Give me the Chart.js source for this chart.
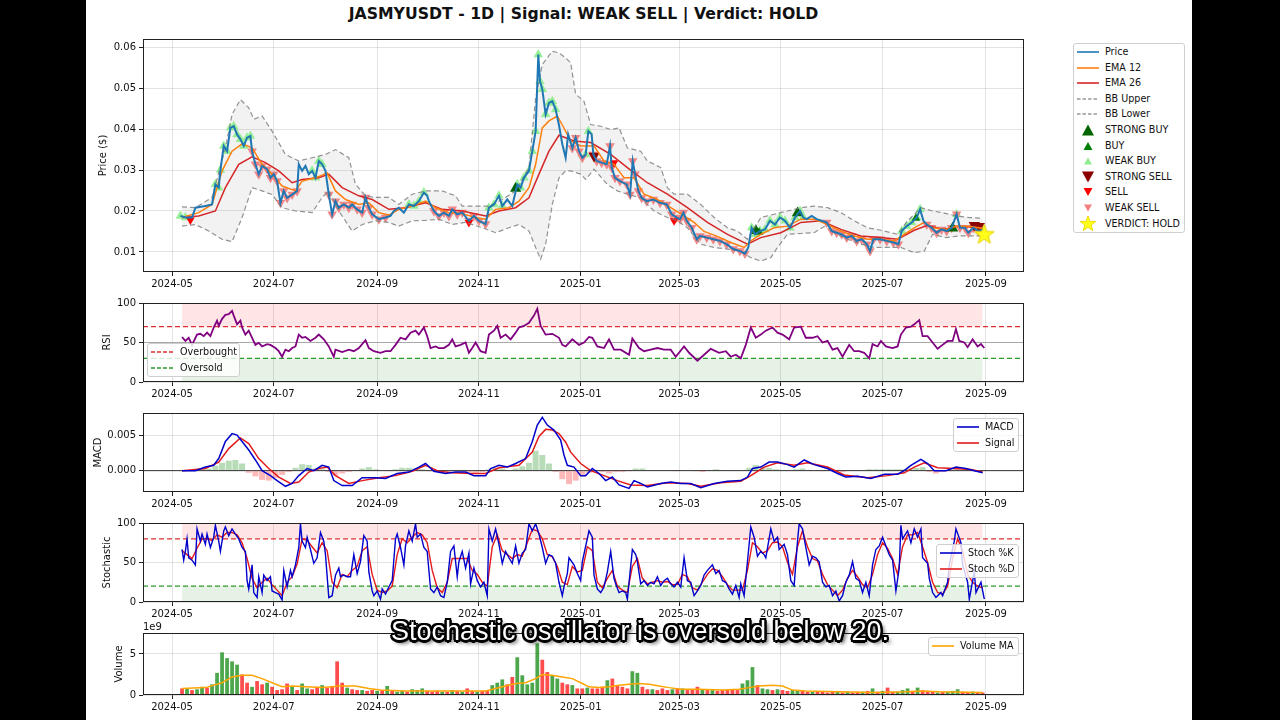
<!DOCTYPE html>
<html><head><meta charset="utf-8">
<script src="https://cdn.jsdelivr.net/npm/chart.js@4.4.1/dist/chart.umd.min.js"></script>
<style>
html,body{margin:0;padding:0;width:1280px;height:720px;background:#000;overflow:hidden;position:relative;}
#page{position:absolute;left:86px;top:0;width:1106px;height:720px;background:#fff;}
canvas{position:absolute;}
.t{position:absolute;font-family:"DejaVu Sans",sans-serif;color:#111;white-space:nowrap;}
.lg{position:absolute;background:rgba(255,255,255,0.8);border:1px solid #cfcfcf;border-radius:3px;box-sizing:border-box;}
.row{position:absolute;height:14px;width:120px;font:9.6px "DejaVu Sans",sans-serif;color:#111;white-space:nowrap;}
.row svg{position:absolute;left:0;top:0;}
.row span{position:absolute;line-height:12px;}
#sub{position:absolute;left:0;width:1280px;top:616px;text-align:center;font:27px "Liberation Sans",Arial,sans-serif;color:#fff;line-height:30px;
text-shadow:-2px -2px 0 #000,2px -2px 0 #000,-2px 2px 0 #000,2px 2px 0 #000,0 -2.5px 0 #000,0 2.5px 0 #000,-2.5px 0 0 #000,2.5px 0 0 #000,3px 3px 4px #000;}
</style></head><body>
<div id="page"></div>
<div class="t" style="left:143px;width:881px;top:4px;text-align:center;font-weight:bold;font-size:15.7px;line-height:20px;">JASMYUSDT - 1D | Signal: WEAK SELL | Verdict: HOLD</div>
<canvas id="cPrice" width="946" height="264" style="left:86px;top:30px"></canvas>
<canvas id="cRsi" width="946" height="110" style="left:86px;top:294px"></canvas>
<canvas id="cMacd" width="946" height="110" style="left:86px;top:404px"></canvas>
<canvas id="cStoch" width="946" height="110" style="left:86px;top:514px"></canvas>
<canvas id="cVol" width="946" height="93" style="left:86px;top:624px"></canvas>
<div class="t" style="left:143px;top:621px;font-size:10px;line-height:12px;">1e9</div>
<script>
// ---------- DATA (day index counted from 2024-05-01) ----------
const tickDays=[0,61,123,184,245,304,365,426,488];
const tickLabels=['2024-05','2024-07','2024-09','2024-11','2025-01','2025-03','2025-05','2025-07','2025-09'];

const priceSeries=[[5,.0188],[8,.0184],[12,.0184],[14,.0208],[20,.0212],[24,.0216],[26,.0265],[28,.0257],[29,.030],[31,.0359],[33,.0346],[35,.0403],[37,.0407],[39,.0387],[41,.0375],[43,.0359],[45,.0379],[47,.0383],[48,.0346],[50,.0314],[52,.029],[54,.031],[57,.0302],[59,.0281],[61,.029],[63,.0273],[65,.022],[67,.0249],[69,.0232],[72,.024],[75,.0249],[76,.0314],[78,.0298],[80,.031],[82,.029],[84,.0298],[86,.0281],[88,.0322],[90,.0314],[92,.0298],[94,.024],[96,.0192],[98,.0224],[100,.0208],[103,.0216],[106,.0208],[108,.0216],[111,.0204],[114,.0196],[116,.0233],[118,.0208],[120,.0192],[124,.018],[128,.0184],[131,.0188],[133,.02],[136,.0208],[139,.0196],[142,.0216],[145,.0212],[148,.0224],[151,.0245],[153,.0237],[154,.0224],[157,.02],[160,.0188],[163,.0196],[166,.0188],[168,.0204],[171,.0192],[174,.0196],[178,.0176],[181,.0188],[184,.0176],[188,.0168],[190,.0208],[193,.0216],[196,.0237],[198,.0212],[201,.0228],[204,.0212],[207,.0265],[209,.0257],[211,.0281],[214,.0298],[216,.0346],[218,.0395],[219.6,.0582],[220.6,.0517],[222,.0497],[224,.0436],[226,.0464],[228,.0468],[230,.0448],[232,.041],[234,.0363],[236,.033],[237.5,.0387],[240,.0354],[242,.0379],[244,.0346],[246,.033],[248,.0338],[249.6,.0395],[251.6,.0387],[252.6,.0338],[254.6,.0322],[257.6,.0318],[260.6,.0314],[262.6,.0359],[263.6,.0306],[265.6,.0281],[268.6,.0273],[272.6,.0265],[274.6,.024],[276.2,.0322],[277.6,.029],[279.6,.0249],[281.6,.0232],[284.6,.0224],[288.6,.0228],[292.6,.022],[296.6,.0216],[299.6,.0192],[302.6,.0184],[304.6,.018],[306.6,.0196],[308.6,.0176],[311.6,.0159],[314.6,.0131],[316.6,.0139],[320.6,.0135],[324.5,.0131],[328.5,.0127],[332.5,.0119],[336.5,.0107],[340.5,.0102],[343.5,.0096],[345.5,.0111],[347.5,.0159],[349.5,.0143],[352.5,.0151],[355.5,.0155],[358.5,.0176],[361.5,.0167],[364.5,.0184],[367.5,.0176],[370.5,.0159],[373.5,.0184],[376.5,.02],[378.5,.0184],[380.5,.018],[383.5,.0188],[386.5,.018],[389.5,.0176],[392.5,.0172],[395.5,.0151],[398.5,.0147],[401.5,.0143],[404.5,.0135],[407.5,.0139],[410.5,.0127],[413.5,.0131],[416.5,.0119],[418.5,.0102],[420.5,.0131],[424.5,.0131],[428.5,.0127],[432.5,.0123],[435.5,.0119],[437.5,.0151],[440.5,.0163],[443.5,.0172],[446.5,.0184],[448.5,.0204],[450.5,.0176],[452.5,.0167],[455.5,.0159],[458.4,.0147],[461.4,.0155],[464.4,.0151],[467.4,.0159],[470.4,.0192],[472.4,.0159],[475.4,.0159],[477.4,.0147],[480.4,.0159],[483.4,.0151],[486.4,.0155]];

const ema12Series=[[6,.0184],[16,.0196],[24,.0216],[30,.0298],[36,.0346],[42,.0364],[48,.0354],[54,.0314],[60,.029],[66,.0261],[74,.0249],[78,.0273],[86,.0281],[93,.0293],[98,.0249],[104,.0228],[112,.0216],[118,.022],[124,.0196],[130,.019],[136,.0204],[144,.0212],[152,.0224],[158,.0208],[166,.0196],[174,.0193],[182,.0184],[188,.018],[194,.0204],[202,.0208],[208,.0224],[214,.0257],[218,.0314],[222,.0403],[226,.042],[231,.0432],[234,.041],[239,.0371],[245,.0359],[253,.0359],[259,.0322],[265,.0314],[271,.0281],[277,.0281],[283,.0241],[291,.0228],[299,.0208],[307,.0188],[313,.0172],[319,.015],[327,.0138],[335,.0123],[343,.0111],[347,.0127],[353,.0143],[361,.0159],[369,.0163],[377,.018],[385,.018],[393,.0167],[401,.0151],[409,.0139],[417,.0131],[425,.0131],[433,.0127],[439,.0143],[445,.0159],[451,.0172],[456,.0159],[464,.0155],[470,.0163],[478,.0163],[486,.0157]];

const ema26Series=[[6,.0184],[16,.0188],[26,.020],[32,.0257],[40,.0314],[48,.0332],[56,.0318],[64,.0298],[72,.0269],[78,.0277],[88,.0281],[94,.029],[102,.0257],[112,.0237],[120,.0228],[130,.0204],[140,.0208],[152,.022],[162,.0204],[174,.020],[188,.0188],[196,.020],[206,.0208],[214,.0232],[220,.029],[226,.0346],[232,.0385],[241,.0371],[251,.0367],[263,.0338],[273,.0306],[285,.0269],[297,.0241],[309,.0208],[321,.0172],[333,.0143],[345,.0119],[353,.0135],[365,.0147],[377,.0172],[389,.0176],[401,.0155],[413,.0139],[425,.0135],[435,.0131],[445,.0153],[453,.0165],[462,.0155],[472,.0163],[486,.0159]];

const bbUpperSeries=[[6,.021],[14,.0208],[24,.0233],[32,.0354],[36,.0436],[41,.0472],[46,.0452],[49,.0424],[54,.0432],[60,.0395],[68,.0338],[76,.0322],[84,.033],[92,.0338],[98,.035],[106,.033],[110,.0265],[116,.0237],[122,.0233],[130,.0233],[136,.0216],[144,.0241],[152,.0249],[162,.0249],[170,.0237],[174,.0212],[182,.0212],[190,.0212],[198,.0228],[206,.0249],[214,.0306],[218,.0476],[222,.0558],[228,.059],[232,.0586],[236,.0574],[239,.0562],[242,.0485],[247,.0468],[251,.0411],[257,.0407],[263,.0399],[268,.0403],[273,.0354],[281,.0346],[285,.0322],[293,.0306],[297,.0257],[301,.0241],[309,.0241],[317,.0216],[325,.0184],[333,.0159],[339,.0151],[345,.0131],[353,.0184],[361,.0192],[369,.020],[377,.0208],[385,.0212],[393,.0208],[401,.0196],[409,.0176],[417,.0159],[425,.0153],[435,.0143],[441,.0176],[449,.0208],[456,.020],[462,.0196],[470,.0188],[478,.0184],[486,.0182]];

const bbLowerSeries=[[6,.0163],[14,.0167],[22,.0151],[30,.0131],[36,.0125],[42,.0184],[48,.0257],[54,.0249],[60,.024],[66,.0208],[74,.020],[84,.0196],[90,.0233],[94,.0249],[100,.020],[108,.0151],[114,.0167],[122,.0176],[130,.0172],[136,.0163],[144,.0176],[152,.0177],[160,.018],[168,.0167],[176,.0172],[186,.0159],[194,.0147],[202,.0159],[208,.0167],[214,.0151],[218,.0111],[221,.0082],[224,.0119],[228,.0216],[232,.0281],[236,.0298],[239,.0298],[245,.029],[248,.0277],[253,.0302],[261,.0265],[267,.0249],[273,.0241],[281,.0232],[289,.020],[297,.0184],[303,.0176],[309,.0159],[317,.0119],[325,.0111],[333,.0107],[341,.0102],[347,.0086],[353,.0078],[359,.0086],[363,.0111],[369,.0143],[377,.0145],[385,.0147],[393,.0167],[397,.0147],[405,.0131],[413,.0119],[421,.0111],[429,.0111],[437,.0111],[445,.0098],[451,.0102],[456,.0143],[464,.0135],[472,.0139],[480,.0139],[486,.0139]];

const weakBuyRanges=[[5,10],[26,47],[84,90],[142,152],[190,200],[207,231],[247,251],[346,380],[437,450],[468,472]];
const weakSellRanges=[[48,75],[94,128],[155,188],[238,246],[252,345],[390,436],[452,486]];
const strongBuyPts=[[206,.0255],[350,.0152],[375,.0195],[468,.0158]];
const buyPts=[[352,.0148],[446,.0182]];
const strongSellPts=[[253,.0334],[481,.0165],[484,.0163]];
const sellPts=[[11,.0178],[178,.0172],[265,.0318],[301,.0176]];
const verdictPts=[[487,.0143]];

const rsiSeries=[[6,57],[8,52],[10,56],[12,47],[15,60],[17,61],[19,58],[21,62.5],[23,58],[25,69],[27,77.6],[28,71],[30,80],[32,85],[34,86],[36,90],[37,84],[39,73],[41,77.6],[42,69],[44,60],[46,65],[48,56],[50,47],[52,49.6],[54,45],[57,48],[59,47],[62,43],[64,39],[66,32],[68,41],[70,39],[72,43],[74,45],[76,60],[78,56],[80,57],[83,52],[86,56],[88,60],[91,54],[94,45],[97,32],[98,41],[102,38],[106,41],[109,39],[112,43],[116,53],[118,43],[121,39],[125,37],[128,39],[131,39],[134,47],[137,56],[140,54],[143,62.5],[146,65],[148,60],[151,69],[153,58],[155,43],[158,45],[160,43],[163,43],[166,47],[168,54],[170,45],[173,47],[176,50],[178,37],[180,43],[182,50],[185,39],[188,37],[190,60],[193,65],[195,71],[197,56],[200,60],[203,54],[206,62.5],[208,69],[211,71],[214,75],[217,84],[219,92.7],[221,71],[224,60],[228,61],[232,56],[234,47],[236,45],[240,54],[244,47],[247,50],[250,57],[252,56],[255,45],[259,43],[262,54],[265,41],[269,41],[274,34.5],[276,55],[280,43],[283,39],[287,41],[291,43],[295,41],[299,41],[302,32],[307,45],[310,37],[315,27],[319,34.5],[323,42],[328,37],[332,39],[335,32],[338,34.5],[341,30],[344,47],[347,69],[350,56],[353,60],[356,65],[360,69],[363,62.5],[366,60],[370,54],[373,69],[377,70],[380,56],[384,56],[387,58],[390,50],[393,52],[396,41],[399,43],[402,32],[406,47],[409,39],[412,39],[415,37],[418,30],[420,48],[423,45],[425,52],[428,45],[432,43],[435,45],[437,60],[440,69],[443,70],[445,73],[448,78.4],[450,58],[453,58],[456,50],[459,42],[462,47],[465,52],[468,52],[470,67],[472,52],[475,50],[477,44],[480,54],[483,45],[485,48],[487,43]];

const macdSeries=[[6,0],[14,0],[20,.0005],[25,.00075],[28,.0017],[32,.0041],[36,.0052],[39,.005],[42,.0041],[46,.0029],[50,.0015],[54,0],[59,-.0007],[63,-.0014],[68,-.0022],[72,-.0018],[76,-.0007],[81,.0003],[85,0],[90,.00075],[94,.0005],[97,-.0014],[102,-.0021],[108,-.0021],[114,-.001],[122,-.001],[128,-.0011],[135,-.0004],[142,-.0002],[148,.0005],[152,.001],[157,-.0001],[164,-.0004],[170,-.0002],[176,-.0002],[181,-.0007],[188,-.0007],[191,.0003],[196,.00075],[201,.0005],[206,.001],[212,.0017],[216,.0041],[219,.0064],[222,.0075],[225,.0064],[229,.0057],[233,.0043],[235,.0022],[237,.00075],[241,.0005],[245,-.0007],[248,-.0007],[252,.0003],[256,-.0004],[260,-.0014],[264,-.0009],[268,-.002],[274,-.0025],[277,-.0014],[281,-.0018],[285,-.0023],[293,-.0018],[299,-.0016],[305,-.0018],[311,-.0018],[317,-.0024],[325,-.0018],[333,-.0015],[341,-.0014],[345,-.0009],[348,.0003],[353,.0005],[358,.0012],[363,.0012],[369,.00085],[373,.0005],[379,.0015],[385,.00085],[393,.0003],[399,-.0004],[404,-.0009],[411,-.0008],[419,-.0011],[427,-.0005],[435,-.0005],[439,0],[443,.00075],[449,.0016],[453,.001],[457,0],[464,0],[470,.0005],[476,.0003],[481,0],[486,-.0003]];

const signalSeries=[[6,0],[20,.0003],[28,.0012],[34,.0031],[41,.0046],[46,.0038],[52,.0017],[58,.0003],[64,-.0009],[71,-.0018],[76,-.0016],[82,-.0002],[88,.0003],[93,.0005],[98,-.0007],[106,-.0018],[114,-.0014],[124,-.001],[134,-.0007],[144,-.0001],[152,.00075],[160,-.0001],[168,-.0003],[180,-.0004],[188,-.0004],[196,.0004],[208,.00075],[216,.0026],[220,.0048],[224,.0058],[228,.0057],[232,.0052],[236,.004],[239,.0026],[245,.001],[251,0],[259,-.0007],[267,-.0014],[275,-.002],[285,-.0021],[297,-.0017],[309,-.0018],[317,-.0022],[329,-.0017],[341,-.0015],[347,-.0007],[355,.0005],[363,.0011],[373,.00075],[381,.0011],[393,.0005],[403,-.0006],[417,-.001],[429,-.0007],[439,-.0003],[445,.0005],[451,.0011],[459,.0004],[469,.0003],[479,.00015],[486,-.0002]];

const histSeries=[[6,.0001],[10,.0001],[14,.0001],[18,.0002],[22,.0003],[26,.0007],[30,.0011],[34,.0014],[38,.0015],[42,.001],[46,-.0003],[50,-.0008],[54,-.0013],[58,-.0014],[62,-.001],[66,-.0006],[70,-.0002],[74,.0004],[78,.0009],[82,.0008],[86,.0003],[90,.0002],[94,-.0002],[98,-.0007],[102,-.0004],[106,-.0002],[110,.0001],[114,.0003],[118,.0005],[122,.0002],[126,.00005],[130,-.0001],[134,.0002],[138,.0004],[142,.0004],[146,.0003],[150,.0002],[154,-.0001],[158,-.0002],[162,-.0003],[166,-.0001],[170,.0001],[174,.0001],[178,-.0002],[182,-.0003],[186,-.0002],[190,.0002],[194,.0004],[198,.0003],[202,.0001],[206,.0003],[210,.0006],[214,.0011],[218,.0028],[222,.0022],[226,.001],[230,-.0002],[234,-.0012],[238,-.0019],[242,-.0014],[246,-.0008],[250,-.0003],[254,.0001],[258,-.0002],[262,-.0004],[266,-.0002],[270,-.0002],[274,-.0001],[278,.0003],[282,.0003],[286,.0001],[290,.0001],[294,.0001],[298,.0001],[302,-.0001],[306,.0001],[310,.0001],[314,-.0001],[318,-.0002],[322,.0001],[326,.0002],[330,.0001],[334,.0001],[338,.00005],[342,.0001],[346,.0004],[350,.0008],[354,.0005],[358,.0004],[362,.0002],[366,.0001],[370,.0001],[374,.0002],[378,.0003],[382,.0001],[386,.00005],[390,-.0001],[394,.00005],[398,-.0002],[402,-.0002],[406,.00005],[410,.0001],[414,.0001],[418,.0002],[422,.0002],[426,.0002],[430,.0002],[434,.0002],[438,.0002],[442,.0003],[446,.0004],[450,.0005],[454,-.0002],[458,-.0004],[462,-.0002],[466,-.0001],[470,.0002],[474,.0001],[478,.00005],[482,-.0001],[486,-.0001]];

const stochKSeries=[[6,66.5],[7,53],[8,64],[9,80],[10,56],[12,53],[14,47],[15,92.6],[17,77],[18,86],[20,73],[21,86],[23,69],[25,82],[26,97],[28,77],[29,64],[31,90],[32,95],[34,84],[36,92.6],[38,86],[40,80],[42,69],[44,64],[45,27],[46,16.5],[48,47],[49,12],[51,5.7],[52,32],[54,12],[55,34],[57,27],[59,32],[60,14],[62,12],[64,10],[66,2.6],[67,40],[69,19],[71,40],[72,32],[74,47],[76,69],[77,99],[78,77],[80,69],[81,82],[83,66.5],[85,49],[87,56],[89,88],[91,77],[92,60],[94,5.7],[96,8],[98,34],[100,43],[101,32],[103,34],[105,32],[107,32],[109,60],[111,36],[113,51],[115,84],[117,77],[118,38],[120,14],[121,8],[123,14],[125,3.5],[126,16.5],[128,10],[130,19],[132,27],[134,80],[135,86],[137,69],[139,47],[140,71],[142,90],[144,77],[146,99],[147,82],[149,86],[151,69],[153,64],[155,16.5],[157,12],[159,19],[161,8],[163,5.7],[165,25],[167,64],[169,71],[171,32],[172,51],[174,64],[176,43],[178,62],[179,23],[181,43],[183,27],[185,19],[187,25],[189,8],[190,92.6],[192,77],[194,92.6],[196,73],[198,49],[200,64],[202,56],[204,49],[206,71],[208,49],[210,62],[212,66.5],[214,99],[216,90],[218,99],[220,86],[222,69],[224,49],[226,60],[228,58],[230,49],[232,25],[234,8],[235,19],[237,36],[238,56],[241,47],[243,36],[245,27],[246,51],[250,90],[252,82],[253,34],[255,16.5],[257,12],[259,19],[261,38],[263,64],[265,30],[266,23],[268,12],[270,14],[272,12],[273,3.5],[276,66.5],[278,60],[279,51],[281,23],[283,27],[285,21],[287,25],[289,23],[291,32],[293,21],[295,27],[297,30],[299,23],[301,19],[303,25],[305,19],[307,56],[309,27],[311,25],[313,8],[315,14],[317,21],[319,34],[321,40],[324,47],[326,36],[328,40],[330,27],[332,25],[334,16.5],[336,10],[338,21],[340,5.7],[341,23],[343,8],[345,51],[347,95],[349,82],[351,58],[353,64],[355,60],[356,56],[359,92.6],[361,77],[363,82],[364,66.5],[367,73],[369,60],[371,27],[373,21],[375,77],[376,99],[378,92.6],[380,69],[382,47],[384,58],[386,56],[388,51],[390,25],[392,19],[394,21],[396,8],[398,14],[400,1.3],[402,8],[404,25],[406,34],[408,51],[410,30],[412,27],[414,12],[416,25],[418,8],[420,47],[422,66.5],[424,71],[426,82],[428,71],[430,60],[432,53],[434,14],[436,43],[437,97],[438,80],[441,90],[443,75],[445,92.6],[447,82],[449,92.6],[450,56],[453,49],[454,30],[456,12],[458,5.7],[461,12],[462,8],[465,25],[466,47],[469,77],[470,92.6],[473,75],[474,47],[477,25],[478,3.5],[481,38],[482,12],[485,25],[487,3.5]];

const stochDSeries=[[6,65],[9,60],[12,55],[15,68],[18,80],[21,80],[24,78],[27,85],[30,82],[33,88],[36,88],[39,85],[42,75],[45,55],[48,30],[51,18],[54,25],[57,30],[60,22],[63,15],[66,8],[69,25],[72,32],[75,48],[78,80],[81,78],[84,70],[87,62],[90,75],[93,65],[96,25],[99,18],[102,35],[105,32],[108,40],[111,45],[114,65],[117,70],[120,35],[123,15],[126,12],[129,14],[132,20],[135,60],[138,80],[141,75],[144,82],[147,88],[150,85],[153,75],[156,40],[159,18],[162,12],[165,25],[168,55],[171,55],[174,55],[177,55],[180,40],[183,35],[186,25],[189,20],[192,70],[195,85],[198,65],[201,60],[204,55],[207,60],[210,58],[213,75],[216,92],[219,90],[222,80],[225,60],[228,57],[231,45],[234,25],[237,22],[240,45],[243,38],[246,40],[249,70],[252,65],[255,25],[258,18],[261,30],[264,40],[267,20],[270,15],[273,12],[276,45],[279,55],[282,30],[285,23],[288,25],[291,27],[294,25],[297,26],[300,22],[303,22],[306,35],[309,32],[312,18],[315,15],[318,25],[321,35],[324,42],[327,40],[330,32],[333,22],[336,15],[339,15],[342,15],[345,40],[348,75],[351,70],[354,62],[357,65],[360,75],[363,76],[366,70],[369,50],[372,35],[375,70],[378,90],[381,70],[384,55],[387,52],[390,35],[393,22],[396,15],[399,8],[402,15],[405,30],[408,40],[411,32],[414,22],[417,18],[420,35],[423,60],[426,75],[429,68],[432,55],[435,35],[438,70],[441,85],[444,85],[447,88],[450,70],[453,50],[456,25],[459,12],[462,10],[465,20],[468,55],[471,80],[474,65],[477,35],[480,25],[483,20],[486,18]];

// volume in units of 1e9; 'g' = up day, 'r' = down day
const volumeSeries=[[6,.8,'r'],[9,.8,'g'],[12,.6,'r'],[15,.7,'g'],[18,1.0,'g'],[21,.9,'r'],[24,1.3,'g'],[27,2.7,'g'],[30,5.2,'g'],[33,4.5,'g'],[36,4.1,'g'],[39,3.7,'g'],[42,2.5,'r'],[45,1.5,'r'],[48,1.0,'g'],[51,1.7,'r'],[54,1.3,'r'],[57,1.5,'g'],[60,1.0,'r'],[63,.6,'r'],[66,.7,'r'],[69,1.4,'r'],[72,1.0,'g'],[75,.6,'r'],[78,1.4,'g'],[81,.8,'g'],[84,.7,'r'],[87,1.0,'r'],[90,1.2,'g'],[93,.9,'r'],[96,1.1,'r'],[99,4.1,'r'],[102,1.5,'r'],[105,.9,'g'],[108,.7,'r'],[111,.6,'r'],[114,.6,'g'],[117,.5,'r'],[120,.6,'r'],[123,.5,'g'],[126,.6,'r'],[129,1.1,'g'],[132,.5,'r'],[135,.4,'g'],[138,.5,'g'],[141,.4,'r'],[144,.7,'g'],[147,.6,'g'],[150,.8,'g'],[153,.5,'r'],[156,.4,'r'],[159,.5,'r'],[162,.4,'g'],[165,.4,'r'],[168,.6,'g'],[171,.5,'r'],[174,.4,'g'],[177,.8,'r'],[180,.5,'r'],[183,.4,'g'],[186,.5,'r'],[189,.5,'r'],[192,1.2,'g'],[195,1.5,'g'],[198,1.9,'g'],[201,1.3,'r'],[204,2.2,'r'],[207,4.6,'g'],[210,2.4,'g'],[213,1.3,'g'],[216,1.5,'g'],[219,6.3,'g'],[222,4.3,'r'],[225,2.8,'r'],[228,2.4,'g'],[231,2.0,'g'],[234,1.5,'r'],[237,1.3,'r'],[240,1.2,'g'],[243,.8,'r'],[246,.8,'r'],[249,.9,'g'],[252,.8,'r'],[255,.8,'r'],[258,1.0,'r'],[261,1.8,'g'],[264,2.0,'r'],[267,1.2,'r'],[270,1.0,'r'],[273,.8,'r'],[276,2.9,'g'],[279,2.7,'g'],[282,1.0,'r'],[285,.7,'r'],[288,.7,'g'],[291,.6,'r'],[294,.8,'r'],[297,.6,'r'],[300,.7,'g'],[303,.8,'r'],[306,.8,'g'],[309,.6,'r'],[312,.7,'r'],[315,1.0,'r'],[318,.7,'g'],[321,.6,'r'],[324,.6,'g'],[327,.5,'r'],[330,.6,'r'],[333,.6,'r'],[336,.7,'r'],[339,.6,'r'],[342,1.4,'g'],[345,1.8,'g'],[348,3.4,'g'],[351,1.2,'r'],[354,.8,'g'],[357,.7,'g'],[360,.6,'r'],[363,.7,'g'],[366,.6,'r'],[369,.5,'r'],[372,.6,'g'],[375,.5,'g'],[378,.5,'r'],[381,.4,'r'],[384,.4,'g'],[387,.5,'r'],[390,.4,'r'],[393,.3,'r'],[396,.4,'r'],[399,.4,'g'],[402,.3,'r'],[405,.4,'g'],[408,.3,'r'],[411,.4,'r'],[414,.4,'g'],[417,.5,'r'],[420,.8,'g'],[423,.4,'r'],[426,.5,'g'],[429,.9,'r'],[432,.4,'r'],[435,.4,'g'],[438,.6,'g'],[441,.8,'g'],[444,.5,'r'],[447,.9,'g'],[450,.6,'r'],[453,.4,'r'],[456,.4,'r'],[459,.3,'g'],[462,.4,'r'],[465,.4,'g'],[468,.5,'g'],[471,.7,'g'],[474,.4,'r'],[477,.3,'r'],[480,.4,'g'],[483,.3,'r'],[486,.3,'r']];

const volumeMASeries=[[6,.8],[20,.9],[30,1.5],[36,2.2],[42,2.4],[48,2.4],[54,2.0],[60,1.5],[66,1.0],[72,1.1],[80,1.0],[90,.9],[96,1.0],[100,1.1],[110,1.1],[118,.8],[125,.6],[140,.5],[160,.5],[180,.5],[188,.5],[194,.8],[200,1.1],[206,1.4],[212,1.5],[218,2.0],[222,2.5],[228,2.4],[234,2.2],[240,2.0],[246,1.4],[250,1.0],[256,.9],[262,1.0],[268,1.2],[274,1.3],[280,1.4],[286,1.3],[292,1.1],[298,.9],[305,.7],[315,.7],[330,.6],[340,.7],[346,.9],[352,1.1],[360,1.2],[366,1.1],[372,.6],[380,.5],[400,.4],[420,.3],[440,.4],[450,.5],[460,.4],[486,.3]];

const bandStart=6, bandEnd=486;

// ---------- HELPERS ----------
const X_MIN=-17.4, X_MAX=510.8;
const FONT={family:'DejaVu Sans',size:10};
const GRID='rgba(176,176,176,0.35)';
const pts=s=>s.map(p=>({x:p[0],y:p[1]}));
const inRanges=(d,r)=>r.some(([a,b])=>d>=a&&d<=b);
const hline=(v,color,dash,w)=>({data:[{x:X_MIN,y:v},{x:X_MAX,y:v}],borderColor:color,borderWidth:w,borderDash:dash,pointRadius:0,fill:false});
const band=(lo,hi,color)=>({data:[{x:bandStart,y:hi},{x:bandEnd,y:hi}],borderWidth:0,pointRadius:0,fill:{value:lo},backgroundColor:color});

const frame={id:'frame',afterDatasetsDraw(c){const a=c.chartArea,ctx=c.ctx;ctx.save();ctx.strokeStyle='#222';ctx.lineWidth=1;
 ctx.strokeRect(Math.round(a.left)+0.5,Math.round(a.top)+0.5,Math.round(a.right-a.left)-1,Math.round(a.bottom-a.top)-1);ctx.restore();}};

function makeChart(id,datasets,y){
 return new Chart(document.getElementById(id),{type:'line',data:{datasets},
  options:{responsive:false,animation:false,devicePixelRatio:1,
   layout:{autoPadding:false,padding:{left:0,right:8,top:6,bottom:0}},
   plugins:{legend:{display:false},tooltip:{enabled:false},filler:{drawTime:'beforeDatasetsDraw'}},
   elements:{point:{radius:0},line:{tension:0}},
   scales:{
    x:{type:'linear',min:X_MIN,max:X_MAX,offset:false,
     afterBuildTicks:s=>{s.ticks=tickDays.map(v=>({value:v}));},
     afterFit:s=>{s.height=22;},
     ticks:{autoSkip:false,maxRotation:0,padding:2,color:'#111',font:FONT,callback:(v,i)=>tickLabels[i]},
     grid:{color:GRID,tickColor:'#222',tickLength:4,offset:false},border:{display:false}},
    y:{type:'linear',min:y.min,max:y.max,
     afterBuildTicks:s=>{s.ticks=y.ticks.map(v=>({value:v}));},
     afterFit:s=>{s.width=57;},
     ticks:{padding:3,color:'#111',font:FONT,callback:y.fmt},
     grid:{color:GRID,tickColor:'#222',tickLength:4},border:{display:false},
     title:{display:true,text:y.title,color:'#111',font:FONT,padding:{top:y.tpad,bottom:0}}}
   }},plugins:[frame]});
}

// star image for verdict marker
const starImg=document.createElement('canvas');starImg.width=22;starImg.height=22;
(function(){const g=starImg.getContext('2d');g.beginPath();for(let i=0;i<10;i++){const r=i%2?4.2:10.5,a=-Math.PI/2+i*Math.PI/5;g.lineTo(11+r*Math.cos(a),11.5+r*Math.sin(a));}g.closePath();g.fillStyle='#ffff1a';g.fill();g.strokeStyle='#e8d000';g.lineWidth=1;g.stroke();})();

const marker=(data,color,r,down)=>({data:pts(data),showLine:false,pointStyle:'triangle',pointRadius:r,pointRotation:down?180:0,pointBackgroundColor:color,pointBorderColor:color,pointBorderWidth:0});

// ---------- PRICE ----------
makeChart('cPrice',[
 {data:pts(verdictPts),showLine:false,pointStyle:starImg,pointRadius:10},
 {data:pts(priceSeries),borderColor:'#1f77b4',borderWidth:2},
 {data:pts(ema12Series),borderColor:'#ff7f0e',borderWidth:1.5},
 {data:pts(ema26Series),borderColor:'#d62728',borderWidth:1.5},
 {data:pts(bbUpperSeries),borderColor:'rgba(128,128,128,0.85)',borderWidth:1.2,borderDash:[5,3]},
 {data:pts(bbLowerSeries),borderColor:'rgba(128,128,128,0.85)',borderWidth:1.2,borderDash:[5,3],fill:'-1',backgroundColor:'rgba(128,128,128,0.1)'},
 marker(strongSellPts,'#8b0000',6.5,true),
 marker(sellPts,'#ff0000',5,true),
 marker(strongBuyPts,'#006400',6.5,false),
 marker(buyPts,'#008000',5,false),
 marker(priceSeries.filter(p=>inRanges(p[0],weakSellRanges)),'rgba(240,128,128,0.95)',5.5,true),
 marker(priceSeries.filter(p=>inRanges(p[0],weakBuyRanges)),'rgba(144,238,144,0.95)',5.5,false)
],{min:0.0051,max:0.062,ticks:[0.01,0.02,0.03,0.04,0.05,0.06],fmt:v=>v.toFixed(2),title:'Price ($)',tpad:11});

// ---------- RSI ----------
makeChart('cRsi',[
 {data:pts(rsiSeries),borderColor:'#800080',borderWidth:1.8},
 hline(70,'#e03030',[5,3],1.3),
 hline(30,'#2a9a2a',[5,3],1.3),
 hline(50,'rgba(128,128,128,0.6)',[],1),
 band(70,100,'rgba(255,0,0,0.1)'),
 band(0,30,'rgba(0,128,0,0.1)')
],{min:0,max:100,ticks:[0,50,100],fmt:v=>String(v),title:'RSI',tpad:15});

// ---------- MACD ----------
makeChart('cMacd',[
 {data:pts(macdSeries),borderColor:'#0000cc',borderWidth:1.5},
 {data:pts(signalSeries),borderColor:'#e41a1a',borderWidth:1.5},
 hline(0,'#333',[],1),
 {type:'bar',data:pts(histSeries),backgroundColor:histSeries.map(p=>p[1]>=0?'rgba(0,128,0,0.28)':'rgba(255,0,0,0.28)'),barPercentage:0.9,categoryPercentage:1,grouped:false}
],{min:-0.003,max:0.0081,ticks:[0,0.005],fmt:v=>v.toFixed(3),title:'MACD',tpad:6});

// ---------- STOCHASTIC ----------
makeChart('cStoch',[
 {data:pts(stochKSeries),borderColor:'#0000cc',borderWidth:1.4},
 {data:pts(stochDSeries),borderColor:'#e41a1a',borderWidth:1.4},
 hline(80,'#e03030',[5,3],1.3),
 hline(20,'#2a9a2a',[5,3],1.3),
 band(80,100,'rgba(255,0,0,0.1)'),
 band(0,20,'rgba(0,128,0,0.1)')
],{min:0,max:100,ticks:[0,50,100],fmt:v=>String(v),title:'Stochastic',tpad:15});

// ---------- VOLUME ----------
makeChart('cVol',[
 {data:pts(volumeMASeries),borderColor:'#ffa500',borderWidth:1.5},
 {type:'bar',data:volumeSeries.map(p=>({x:p[0],y:p[1]})),backgroundColor:volumeSeries.map(p=>p[2]==='g'?'rgba(0,128,0,0.7)':'rgba(255,0,0,0.7)'),barPercentage:0.75,categoryPercentage:1,grouped:false}
],{min:0,max:7.56,ticks:[0,5],fmt:v=>String(v),title:'Volume',tpad:27});

// ---------- LEGENDS ----------
function sym(r){
 const c=r.color;
 if(r.kind==='line')return `<svg width="24" height="14"><line x1="1" y1="7" x2="23" y2="7" stroke="${c}" stroke-width="1.6"/></svg>`;
 if(r.kind==='dash')return `<svg width="24" height="14"><line x1="1" y1="7" x2="23" y2="7" stroke="${c}" stroke-width="1.4" stroke-dasharray="${r.da||'3.5 2'}"/></svg>`;
 if(r.kind==='up'||r.kind==='down'){const s=r.size,h=s*0.9;const up=r.kind==='up';
  const p=up?`12,${7-h/2} ${12-s/2},${7+h/2} ${12+s/2},${7+h/2}`:`12,${7+h/2} ${12-s/2},${7-h/2} ${12+s/2},${7-h/2}`;
  return `<svg width="24" height="14"><polygon points="${p}" fill="${c}"/></svg>`;}
 if(r.kind==='star'){let p=[];for(let i=0;i<10;i++){const rr=i%2?3.4:8.2,a=-Math.PI/2+i*Math.PI/5;p.push((12+rr*Math.cos(a)).toFixed(2)+','+(8+rr*Math.sin(a)).toFixed(2));}
  return `<svg width="24" height="16" style="top:-1px"><polygon points="${p.join(' ')}" fill="#ffff1a" stroke="#e8d000" stroke-width="0.8"/></svg>`;}
}
function legend(box,rows){
 const d=document.createElement('div');d.className='lg';
 Object.assign(d.style,{left:box.l+'px',top:box.t+'px',width:box.w+'px',height:box.h+'px'});
 document.body.appendChild(d);
 rows.forEach((r,i)=>{const cy=box.y0+i*box.dy;const row=document.createElement('div');row.className='row';
  row.style.left=box.sx+'px';row.style.top=(cy-7)+'px';
  row.innerHTML=sym(r)+`<span style="left:${box.tx-box.sx}px;top:1px">${r.label}</span>`;document.body.appendChild(row);});
}
legend({l:1073,t:43,w:112,h:190,y0:52,dy:15.6,sx:1076,tx:1105},[
 {kind:'line',color:'#1f77b4',label:'Price'},{kind:'line',color:'#ff7f0e',label:'EMA 12'},{kind:'line',color:'#d62728',label:'EMA 26'},
 {kind:'dash',color:'#999',label:'BB Upper'},{kind:'dash',color:'#999',label:'BB Lower'},
 {kind:'up',color:'#006400',size:12,label:'STRONG BUY'},{kind:'up',color:'#008000',size:9,label:'BUY'},{kind:'up',color:'#90ee90',size:8,label:'WEAK BUY'},
 {kind:'down',color:'#8b0000',size:12,label:'STRONG SELL'},{kind:'down',color:'#ff0000',size:9,label:'SELL'},{kind:'down',color:'#f08080',size:8,label:'WEAK SELL'},
 {kind:'star',label:'VERDICT: HOLD'}]);
legend({l:147,t:343,w:93,h:34,y0:352,dy:15.6,sx:150,tx:180},[
 {kind:'dash',color:'#e03030',label:'Overbought',da:'4 2'},{kind:'dash',color:'#2a9a2a',label:'Oversold',da:'4 2'}]);
legend({l:953,t:418,w:66,h:34,y0:427,dy:15.6,sx:956,tx:985},[
 {kind:'line',color:'#0000cc',label:'MACD'},{kind:'line',color:'#e41a1a',label:'Signal'}]);
legend({l:936,t:544,w:83,h:34,y0:553,dy:15.6,sx:939,tx:968},[
 {kind:'line',color:'#0000cc',label:'Stoch %K'},{kind:'line',color:'#e41a1a',label:'Stoch %D'}]);
legend({l:928,t:637,w:91,h:19,y0:646,dy:15.6,sx:931,tx:960},[
 {kind:'line',color:'#ffa500',label:'Volume MA'}]);
</script>
<div id="sub">Stochastic oscillator is oversold below 20.</div>
</body></html>
